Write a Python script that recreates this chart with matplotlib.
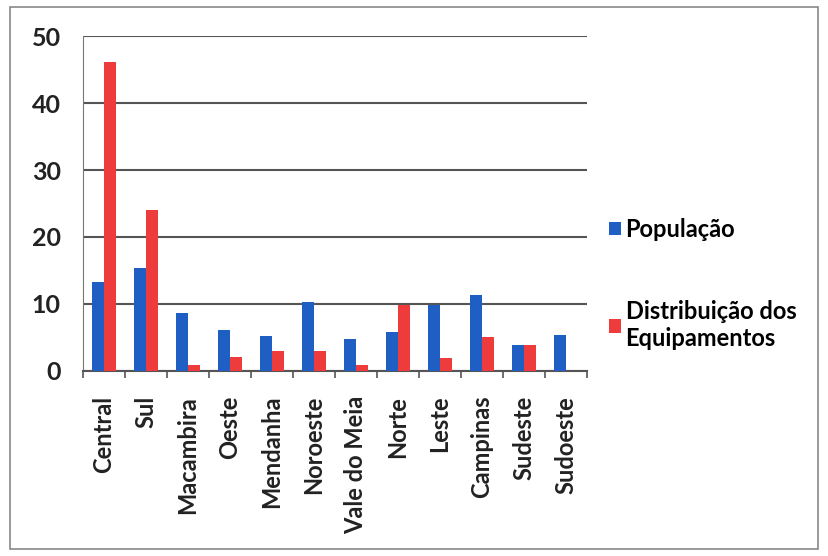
import matplotlib
matplotlib.use('Agg')
import matplotlib.pyplot as plt
import numpy as np

regioes = ['Central', 'Sul', 'Macambira', 'Oeste', 'Mendanha', 'Noroeste',
           'Vale do Meia', 'Norte', 'Leste', 'Campinas', 'Sudeste', 'Sudoeste']
populacao = [13.3, 15.3, 8.7, 6.1, 5.2, 10.3, 4.8, 5.8, 9.9, 11.3, 3.8, 5.3]
equipamentos = [46.1, 24.1, 0.9, 2.0, 3.0, 3.0, 0.9, 9.9, 1.9, 5.1, 3.8, 0.0]
yticks = [0, 10, 20, 30, 40, 50]

plt.rcParams['font.family'] = ['Lato', 'DejaVu Sans']
plt.rcParams['font.weight'] = 'bold'

fig = plt.figure(figsize=(8.29, 5.56), dpi=100)
ax = fig.add_axes([0.100, 0.333, 0.608, 0.602])

x = np.arange(len(regioes))
w = 0.29
ax.bar(x - w/2, populacao, w, color='#1F5FC4', label='População', zorder=3)
ax.bar(x + w/2, equipamentos, w, color='#EE3B3B', label='Distribuição dos\nEquipamentos', zorder=3)

ax.set_xlim(-0.5, len(regioes) - 0.5)
ax.set_ylim(0, 50)
ax.set_yticks(yticks)
ax.tick_params(axis='y', length=0, pad=16, labelsize=18, colors='#222222')
ax.set_xticks(x)
ax.set_xticklabels(regioes, rotation=90, fontsize=17, color='#222222')
ax.tick_params(axis='x', length=0, pad=18)
# tick marks at category boundaries
ax.set_xticks(np.arange(-0.5, len(regioes)), minor=True)
ax.tick_params(axis='x', which='minor', length=5, width=1.2, color='#555555')

ax.grid(axis='y', color='#555555', lw=1.5, zorder=1)
for s in ['top', 'right']:
    ax.spines[s].set_visible(False)
ax.spines['left'].set_color('#777777')
ax.spines['bottom'].set_color('#555555')
ax.spines['bottom'].set_linewidth(1.5)

ax.legend(loc='center left', bbox_to_anchor=(1.025, 0.26), frameon=False,
          fontsize=17, handlelength=0.5, handleheight=0.5, handletextpad=0.2,
          labelspacing=2.5, borderaxespad=0.0)

fig.patches.append(plt.Rectangle((0.012, 0.012), 0.975, 0.975, transform=fig.transFigure,
                                 fill=False, edgecolor='#888888', lw=1.2))

fig.savefig('out.png', dpi=100)
